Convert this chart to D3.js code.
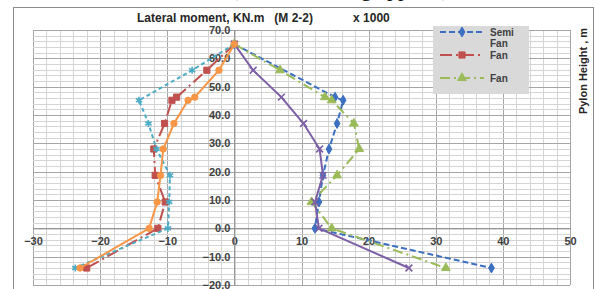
<!DOCTYPE html>
<html>
<head>
<meta charset="utf-8">
<script src="https://cdn.jsdelivr.net/npm/d3@7"></script>
<style>
  body { margin: 0; background: #fff; }
  svg { display: block; }
</style>
</head>
<body>
<svg id="chart" width="595" height="289"></svg>
<script>
// pylon heights (m) at which moments were read
var heights = [65, 55.8, 46.3, 45.2, 37, 28, 18.7, 9.3, 0, -14];

// lateral moment x 1000 KN.m, null = no point for that height
var semiFan   = [0, null, 15, 16.2, 15.3, 14.1, 13.2, 12.6, 12, 38.3];
var fanRed    = [0, -4.1, -8.6, -9.3, -10.4, -12, -11.8, -10.3, -11.4, -22];
var fanGreen  = [0, 6.8, 13.5, 14.5, 17.8, 18.6, 15.3, 11.5, 14.5, 31.5];
var purpleSer = [0, 2.8, 7, null, 10.3, 12.7, 13.2, 12, 12.6, 26];
var cyanSer   = [0, -6.3, null, -14.2, -12.8, -11.6, -9.6, -9.7, -9.9, -23.7];
var orangeSer = [0, -2.3, -5.9, -6.9, -9, -10.6, -11, -11.5, -12.7, -23];

var legendNames = ["Semi Fan", "Fan", "Fan"];
var xTicks = [-30, -20, -10, 0, 10, 20, 30, 40, 50];
var yTicks = [70, 60, 50, 40, 30, 20, 10, 0, -10, -20];

var series = [
    {vals: semiFan,   color: "#3b6fc1", dash: "6,3",      sym: d3.symbolDiamond,  size: 28, fill: true},
    {vals: fanRed,    color: "#c0504d", dash: "12,4,2,4", sym: d3.symbolSquare,   size: 38, fill: true},
    {vals: fanGreen,  color: "#9bbb59", dash: "10,4,2,4", sym: d3.symbolTriangle, size: 34, fill: true},
    {vals: purpleSer, color: "#7d5fa5", dash: null,       sym: d3.symbolTimes,    size: 32, fill: false},
    {vals: cyanSer,   color: "#4bacc6", dash: "4,3",      sym: d3.symbolAsterisk, size: 36, fill: false},
    {vals: orangeSer, color: "#f79646", dash: null,       sym: d3.symbolCircle,   size: 32, fill: true}
];

var svg = d3.select("#chart");

var x = d3.scaleLinear().domain([-30, 50]).range([33, 570]);
var y = d3.scaleLinear().domain([-20, 70]).range([285, 30]);

// cut caption from page above
svg.append("text")
    .attr("x", 340).attr("y", -4)
    .attr("text-anchor", "middle")
    .style("font-family", "Liberation Serif")
    .style("font-size", "22px")
    .text("(Lateral loading applied)");

// chart border
svg.append("rect")
    .attr("x", 13.5).attr("y", 7.5)
    .attr("width", 580).attr("height", 300)
    .attr("fill", "none").attr("stroke", "#8c8c8c");

// grid
var grid = svg.append("g");
grid.selectAll(".vx").data(d3.range(-30, 51, 2)).enter().append("line")
    .attr("x1", function(d) { return Math.round(x(d)) + 0.5; })
    .attr("x2", function(d) { return Math.round(x(d)) + 0.5; })
    .attr("y1", y(70)).attr("y2", y(-20))
    .attr("stroke", function(d) { return d % 10 === 0 ? "#a6a6a6" : "#d4d4d4"; })
    .attr("stroke-width", 1);
grid.selectAll(".hy").data(d3.range(-20, 71, 2)).enter().append("line")
    .attr("y1", function(d) { return Math.round(y(d)) + 0.5; })
    .attr("y2", function(d) { return Math.round(y(d)) + 0.5; })
    .attr("x1", x(-30)).attr("x2", x(50))
    .attr("stroke", function(d) { return d % 10 === 0 ? "#a6a6a6" : "#d4d4d4"; })
    .attr("stroke-width", 1);

// axes crossing at 0
var xAxis = svg.append("g")
    .attr("transform", "translate(0," + y(0) + ")")
    .call(d3.axisBottom(x).tickValues(xTicks).tickSize(0).tickPadding(9));
var yAxis = svg.append("g")
    .attr("transform", "translate(" + x(0) + ",0)")
    .call(d3.axisLeft(y).tickValues(yTicks).tickSize(0).tickPadding(4).tickFormat(d3.format(".1f")));
[xAxis, yAxis].forEach(function(a) {
    a.select(".domain").attr("stroke", "#8c8c8c");
    a.selectAll("text")
        .style("font-family", "Liberation Sans")
        .style("font-weight", "bold")
        .style("font-size", "11px")
        .attr("fill", "#404040");
});
yAxis.selectAll("text").attr("dy", "0.32em");

// series lines + markers
series.forEach(function(s) {
    var pts = [];
    for (var i = 0; i < heights.length; i++) {
        if (s.vals[i] !== null) pts.push([s.vals[i], heights[i]]);
    }
    var line = d3.line()
        .x(function(d) { return x(d[0]); })
        .y(function(d) { return y(d[1]); });
    svg.append("path")
        .datum(pts)
        .attr("d", line)
        .attr("fill", "none")
        .attr("stroke", s.color)
        .attr("stroke-width", 2)
        .attr("stroke-dasharray", s.dash);
    svg.append("g").selectAll("path").data(pts).enter().append("path")
        .attr("transform", function(d) { return "translate(" + x(d[0]) + "," + y(d[1]) + ")"; })
        .attr("d", d3.symbol().type(s.sym).size(s.size))
        .attr("fill", s.fill ? s.color : "none")
        .attr("stroke", s.color)
        .attr("stroke-width", s.fill ? 1 : 1.6);
});

// title
svg.append("text")
    .attr("x", 137).attr("y", 22)
    .style("font-family", "Liberation Sans")
    .style("font-weight", "bold")
    .style("font-size", "12px")
    .attr("fill", "#262626")
    .attr("xml:space", "preserve")
    .text("Lateral moment, KN.m   (M 2-2)            x 1000");

// right axis title
svg.append("text")
    .attr("transform", "translate(587,71) rotate(-90)")
    .attr("text-anchor", "middle")
    .style("font-family", "Liberation Sans")
    .style("font-weight", "bold")
    .style("font-size", "11px")
    .attr("fill", "#262626")
    .text("Pylon Height , m");

// legend (only first three entries visible)
var lg = svg.append("g");
lg.append("rect")
    .attr("x", 433).attr("y", 26).attr("width", 96).attr("height", 68)
    .attr("fill", "#d9d9d9");
var rows = [32, 55, 78];
rows.forEach(function(ry, i) {
    var s = series[i];
    lg.append("line")
        .attr("x1", 440).attr("x2", 484).attr("y1", ry).attr("y2", ry)
        .attr("stroke", s.color).attr("stroke-width", 2)
        .attr("stroke-dasharray", s.dash);
    lg.append("path")
        .attr("transform", "translate(462," + ry + ")")
        .attr("d", d3.symbol().type(s.sym).size(s.size))
        .attr("fill", s.color).attr("stroke", s.color);
    var words = legendNames[i].split(" ");
    words.forEach(function(w, j) {
        lg.append("text")
            .attr("x", 490).attr("y", ry + 4 + j * 11)
            .style("font-family", "Liberation Sans")
            .style("font-weight", "bold")
            .style("font-size", "10px")
            .attr("fill", "#404040")
            .text(w);
    });
});
</script>
</body>
</html>
